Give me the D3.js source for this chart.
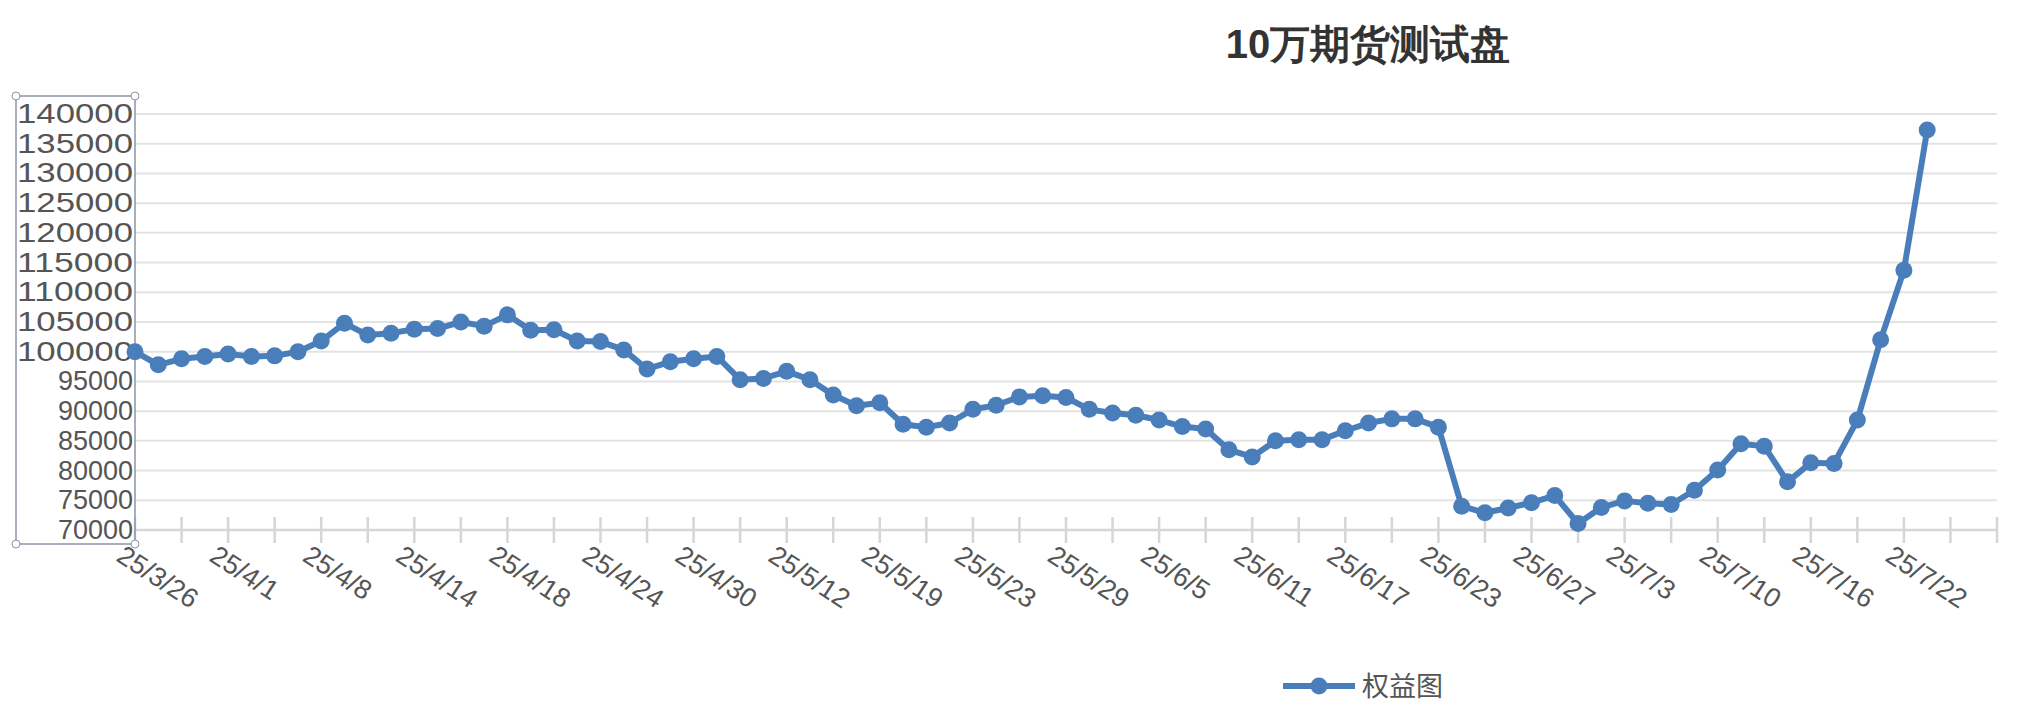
<!DOCTYPE html>
<html><head><meta charset="utf-8">
<script src="https://cdn.jsdelivr.net/npm/d3@7"></script>
<style>body{margin:0;background:#fff}</style></head>
<body><svg id="c" width="2040" height="726"></svg>
<script>
const title = "10万期货测试盘";
const seriesName = "权益图";
const values = [100000,97800,98800,99200,99600,99200,99300,100000,101800,104800,102800,103100,103800,103900,105000,104300,106200,103600,103700,101800,101700,100300,97100,98300,98800,99200,95300,95500,96700,95300,92700,90900,91400,87800,87300,88000,90300,91000,92400,92600,92300,90300,89700,89300,88500,87400,87000,83500,82300,85000,85200,85200,86700,88000,88700,88700,87300,74000,72900,73700,74600,75800,71100,73800,74900,74500,74300,76700,80100,84500,84100,78100,81300,81200,88500,102000,113700,137300];
const xLabels = ["25/3/26","25/4/1","25/4/8","25/4/14","25/4/18","25/4/24","25/4/30","25/5/12","25/5/19","25/5/23","25/5/29","25/6/5","25/6/11","25/6/17","25/6/23","25/6/27","25/7/3","25/7/10","25/7/16","25/7/22"];
const yTicks = d3.range(70000,140001,5000);

const svg = d3.select("#c");
const font = "'Liberation Sans', Arial, sans-serif";
const x = d3.scaleLinear().domain([0,80]).range([135,1997]);
const y = d3.scaleLinear().domain([70000,140000]).range([530,114]);
const color = "#4a7ebb";

svg.append("text").attr("x",1368).attr("y",58).attr("text-anchor","middle")
  .attr("font-family",font).attr("font-weight","bold").attr("font-size",40).attr("fill","#333").text(title);

svg.append("g").selectAll("line").data(yTicks.slice(1)).join("line")
  .attr("x1",135).attr("x2",1997).attr("y1",d=>y(d)).attr("y2",d=>y(d))
  .attr("stroke","#e3e3e3").attr("stroke-width",2);
svg.append("line").attr("x1",135).attr("x2",1997).attr("y1",y(70000)).attr("y2",y(70000)).attr("stroke","#d6d6d6").attr("stroke-width",2.5);
svg.append("g").selectAll("line").data(d3.range(0,81,2)).join("line")
  .attr("x1",d=>x(d)).attr("x2",d=>x(d)).attr("y1",y(70000)-13).attr("y2",y(70000)+13)
  .attr("stroke","#d6d6d6").attr("stroke-width",2.5);
svg.append("g").selectAll("text").data(yTicks).join("text")
  .attr("x",133).attr("y",d=>y(d)+9).attr("text-anchor","end").attr("textLength",116).attr("lengthAdjust","spacingAndGlyphs")
  .attr("font-family",font).attr("font-size",27).attr("fill","#555").text(d=>d);
svg.selectAll("g text").filter(d=>d<100000).attr("textLength",null);
svg.append("rect").attr("x",16).attr("y",96).attr("width",119).attr("height",448).attr("fill","none").attr("stroke","#8f93a5").attr("stroke-width",1.5);
[[16,96],[135,96],[16,544],[135,544]].forEach(p=>svg.append("circle").attr("cx",p[0]).attr("cy",p[1]).attr("r",4).attr("fill","#fff").attr("stroke","#8f93a5"));
svg.append("g").selectAll("text").data(xLabels).join("text")
  .attr("transform",(d,i)=>`translate(${x(i*4)-20},${y(70000)+30}) rotate(33)`)
  .attr("font-family",font).attr("font-size",27).attr("fill","#555").text(d=>d);
svg.append("path").datum(values).attr("fill","none").attr("stroke",color).attr("stroke-width",6).attr("stroke-linejoin","round")
  .attr("d",d3.line().x((d,i)=>x(i)).y(d=>y(d)));
svg.append("g").selectAll("circle").data(values).join("circle")
  .attr("cx",(d,i)=>x(i)).attr("cy",d=>y(d)).attr("r",8.5).attr("fill",color);
svg.append("line").attr("x1",1283).attr("x2",1355).attr("y1",686).attr("y2",686).attr("stroke",color).attr("stroke-width",6);
svg.append("circle").attr("cx",1319).attr("cy",686).attr("r",8.5).attr("fill",color);
svg.append("text").attr("x",1362).attr("y",696).attr("font-family","'Noto Sans CJK SC', sans-serif").attr("font-size",27).attr("fill","#555").text(seriesName);
</script></body></html>
